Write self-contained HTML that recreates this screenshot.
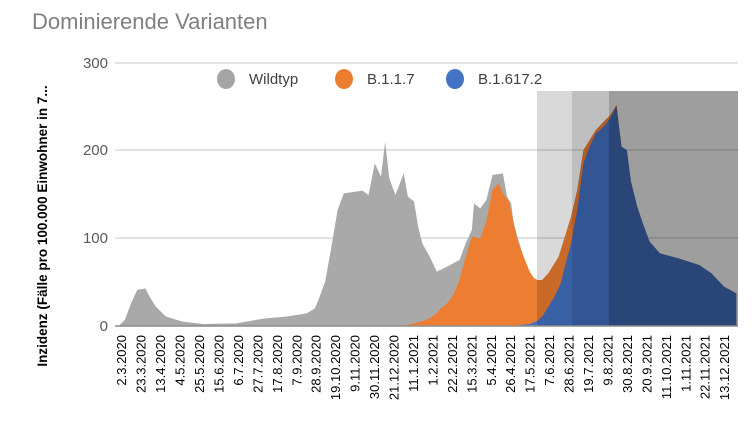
<!DOCTYPE html>
<html><head><meta charset="utf-8"><style>
html,body{margin:0;padding:0;background:#fff;}
svg{display:block;font-family:"Liberation Sans",sans-serif;}
</style></head><body>
<svg width="754" height="428" xmlns="http://www.w3.org/2000/svg">
<rect width="754" height="428" fill="#fff"/>
<text x="32" y="29" font-size="22" fill="#7f7f7f">Dominierende Varianten</text>
<text transform="translate(47,226) rotate(-90)" text-anchor="middle" font-size="13.5" font-weight="bold" fill="#000">Inzidenz (Fälle pro 100.000 Einwohner in 7...</text>
<g font-size="15" fill="#595959" text-anchor="end">
<text x="108" y="68">300</text><text x="108" y="155">200</text><text x="108" y="243">100</text><text x="108" y="331">0</text>
</g>
<g stroke="#d9d9d9" stroke-width="1.5">
<line x1="115" y1="63" x2="738" y2="63"/><line x1="115" y1="150" x2="738" y2="150"/><line x1="115" y1="238" x2="738" y2="238"/>
</g>
<g transform="translate(100,50) scale(0.41322,0.33333)">
<polygon fill="#a9a9a9" points="45,828 60,810 75,760 90,720 110,715 120,740 135,770 160,800 200,815 250,822 330,820 400,805 450,800 500,790 520,775 530,745 545,695 560,590 575,480 590,430 635,422 650,435 665,340 680,380 690,275 700,385 715,435 735,370 745,440 760,455 770,530 780,580 800,625 815,665 840,650 870,630 885,580 900,540 905,460 920,475 935,450 950,375 975,370 985,440 995,460 1000,510 1010,560 1025,620 1040,670 1055,690 1070,690 1085,670 1100,640 1110,620 1125,560 1140,500 1155,420 1170,300 1185,270 1200,240 1215,220 1235,195 1250,165 1262,290 1275,300 1285,395 1300,470 1315,525 1330,575 1355,610 1400,625 1450,645 1480,670 1510,710 1540,730 1540,828"/>
<polygon fill="#ed7d31" points="730,828 760,820 790,810 810,795 825,775 840,760 855,735 870,690 885,620 900,560 920,565 935,515 950,420 965,400 975,430 990,455 1000,515 1010,570 1025,620 1040,665 1050,685 1060,690 1070,690 1085,670 1100,640 1110,620 1125,560 1140,500 1155,420 1170,300 1185,270 1200,240 1215,220 1235,195 1250,165 1262,290 1262,828"/>
<polygon fill="#4472c4" points="995,828 1040,822 1055,815 1070,800 1085,770 1100,740 1115,700 1125,650 1140,580 1155,480 1170,340 1185,290 1200,250 1215,235 1235,205 1250,170 1262,290 1275,300 1285,395 1300,470 1315,525 1330,575 1355,610 1400,625 1450,645 1480,670 1510,710 1540,730 1540,828"/>
</g>
<rect x="537" y="91" width="35" height="235" fill="#000" fill-opacity="0.15"/>
<rect x="572" y="91" width="37" height="235" fill="#000" fill-opacity="0.25"/>
<rect x="609" y="91" width="129" height="235" fill="#000" fill-opacity="0.38"/>
<line x1="115" y1="326" x2="738" y2="326" stroke="#8c8c8c" stroke-width="1.5"/>
<g font-size="15" fill="#404040">
<ellipse cx="226" cy="79" rx="9" ry="10" fill="#a5a5a5"/><text x="249" y="84">Wildtyp</text>
<ellipse cx="344" cy="79" rx="9" ry="10" fill="#ed7d31"/><text x="367" y="84">B.1.1.7</text>
<ellipse cx="455" cy="79" rx="9" ry="10" fill="#4472c4"/><text x="478" y="84">B.1.617.2</text>
</g>
<g font-size="13" fill="#000" text-anchor="end">
<text transform="translate(126.2,335) rotate(-90)">2.3.2020</text>
<text transform="translate(145.7,335) rotate(-90)">23.3.2020</text>
<text transform="translate(165.1,335) rotate(-90)">13.4.2020</text>
<text transform="translate(184.6,335) rotate(-90)">4.5.2020</text>
<text transform="translate(204.0,335) rotate(-90)">25.5.2020</text>
<text transform="translate(223.5,335) rotate(-90)">15.6.2020</text>
<text transform="translate(242.9,335) rotate(-90)">6.7.2020</text>
<text transform="translate(262.4,335) rotate(-90)">27.7.2020</text>
<text transform="translate(281.8,335) rotate(-90)">17.8.2020</text>
<text transform="translate(301.3,335) rotate(-90)">7.9.2020</text>
<text transform="translate(320.7,335) rotate(-90)">28.9.2020</text>
<text transform="translate(340.2,335) rotate(-90)">19.10.2020</text>
<text transform="translate(359.6,335) rotate(-90)">9.11.2020</text>
<text transform="translate(379.1,335) rotate(-90)">30.11.2020</text>
<text transform="translate(398.5,335) rotate(-90)">21.12.2020</text>
<text transform="translate(418.0,335) rotate(-90)">11.1.2021</text>
<text transform="translate(437.4,335) rotate(-90)">1.2.2021</text>
<text transform="translate(456.9,335) rotate(-90)">22.2.2021</text>
<text transform="translate(476.3,335) rotate(-90)">15.3.2021</text>
<text transform="translate(495.8,335) rotate(-90)">5.4.2021</text>
<text transform="translate(515.2,335) rotate(-90)">26.4.2021</text>
<text transform="translate(534.7,335) rotate(-90)">17.5.2021</text>
<text transform="translate(554.1,335) rotate(-90)">7.6.2021</text>
<text transform="translate(573.6,335) rotate(-90)">28.6.2021</text>
<text transform="translate(593.0,335) rotate(-90)">19.7.2021</text>
<text transform="translate(612.5,335) rotate(-90)">9.8.2021</text>
<text transform="translate(631.9,335) rotate(-90)">30.8.2021</text>
<text transform="translate(651.4,335) rotate(-90)">20.9.2021</text>
<text transform="translate(670.8,335) rotate(-90)">11.10.2021</text>
<text transform="translate(690.3,335) rotate(-90)">1.11.2021</text>
<text transform="translate(709.7,335) rotate(-90)">22.11.2021</text>
<text transform="translate(729.2,335) rotate(-90)">13.12.2021</text>
</g>
</svg>
</body></html>
